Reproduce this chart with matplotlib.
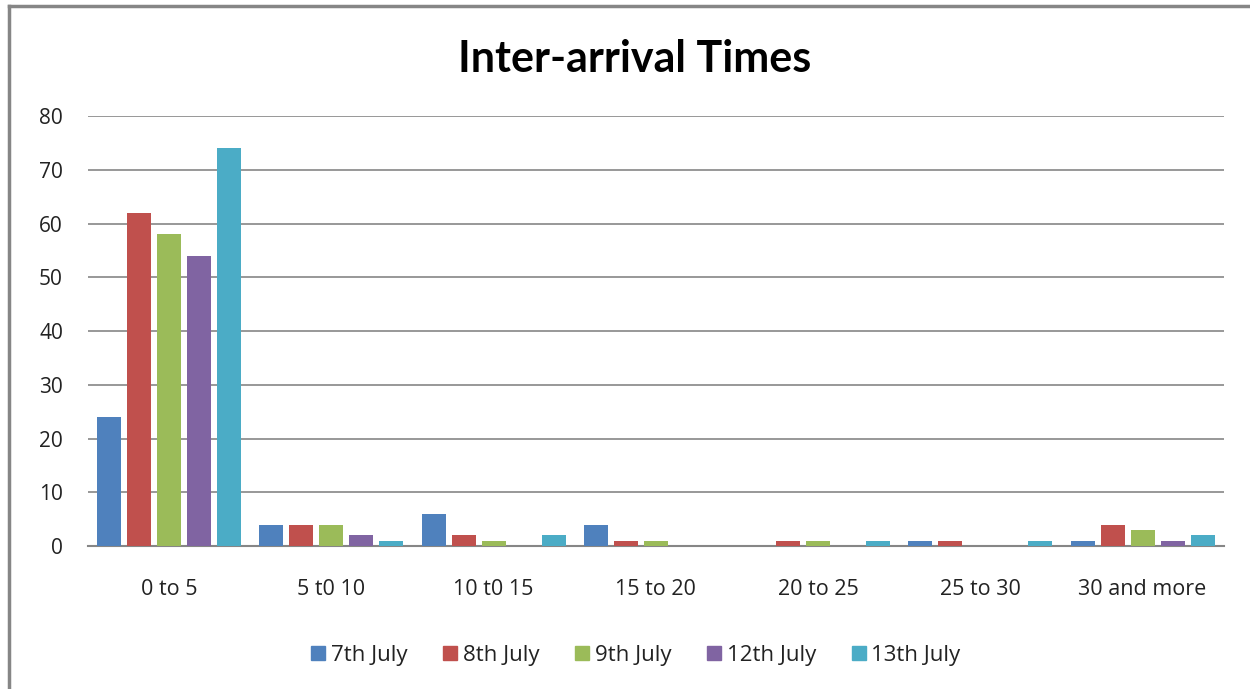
import numpy as np
import matplotlib
matplotlib.use('Agg')
import matplotlib.pyplot as plt
from matplotlib.lines import Line2D

# Inter-arrival time buckets (minutes) and counts per day.
categories = ['0 to 5', '5 t0 10', '10 t0 15', '15 to 20', '20 to 25', '25 to 30', '30 and more']
days = ['7th July', '8th July', '9th July', '12th July', '13th July']
jul07 = [24, 4, 6, 4, 0, 1, 1]
jul08 = [62, 4, 2, 1, 1, 1, 4]
jul09 = [58, 4, 1, 1, 1, 0, 3]
jul12 = [54, 2, 0, 0, 0, 0, 1]
jul13 = [74, 1, 2, 0, 1, 1, 2]
colors = ['#4F81BD', '#C0504D', '#9BBB59', '#8064A2', '#4BACC6']

plt.rcParams['font.family'] = ['Open Sans', 'DejaVu Sans']

fig = plt.figure(figsize=(12.5, 6.89), dpi=100)
ax = fig.add_axes([0.0704, 0.2075, 0.9086, 0.6241])

x = np.arange(len(categories))
pitch = 0.185
width = 0.148
for i, (series, color) in enumerate(zip([jul07, jul08, jul09, jul12, jul13], colors)):
    offset = (i - 2) * pitch
    ax.bar(x + offset, series, width=width, color=color, zorder=3)

ax.set_xlim(-0.5, len(categories) - 0.5)
ax.set_ylim(0, 80)
ax.set_yticks(range(0, 81, 10))
ax.set_xticks(x)
ax.set_xticklabels(categories)
ax.yaxis.grid(True, color='#868686', linewidth=1.2, zorder=0)
ax.tick_params(axis='both', length=0, colors='#222222')
ax.tick_params(axis='y', pad=18, labelsize=15)
ax.tick_params(axis='x', pad=24, labelsize=15.5)
for side in ['left', 'right', 'top']:
    ax.spines[side].set_visible(False)
ax.spines['bottom'].set_color('#868686')
ax.spines['bottom'].set_linewidth(1.5)

fig.text(0.508, 0.915, 'Inter-arrival Times', ha='center', va='center',
         fontsize=31, fontweight='bold', family=['Lato', 'DejaVu Sans'])

handles = [Line2D([], [], marker='s', linestyle='none', markersize=9.5,
                  markerfacecolor=c, markeredgecolor=c) for c in colors]
fig.legend(handles, days, loc='center', bbox_to_anchor=(0.508, 0.049), ncol=5,
           frameon=False, fontsize=16, handletextpad=0.15, columnspacing=1.55,
           handlelength=0.8, labelcolor='#222222')

# Chart frame (left and top edges)
fig.add_artist(Line2D([0.0068, 0.0068], [0, 0.992], color='#868686', linewidth=2.5,
                      transform=fig.transFigure))
fig.add_artist(Line2D([0.0068, 1.0], [0.992, 0.992], color='#868686', linewidth=2.5,
                      transform=fig.transFigure))

plt.savefig('out.png', dpi=100)
